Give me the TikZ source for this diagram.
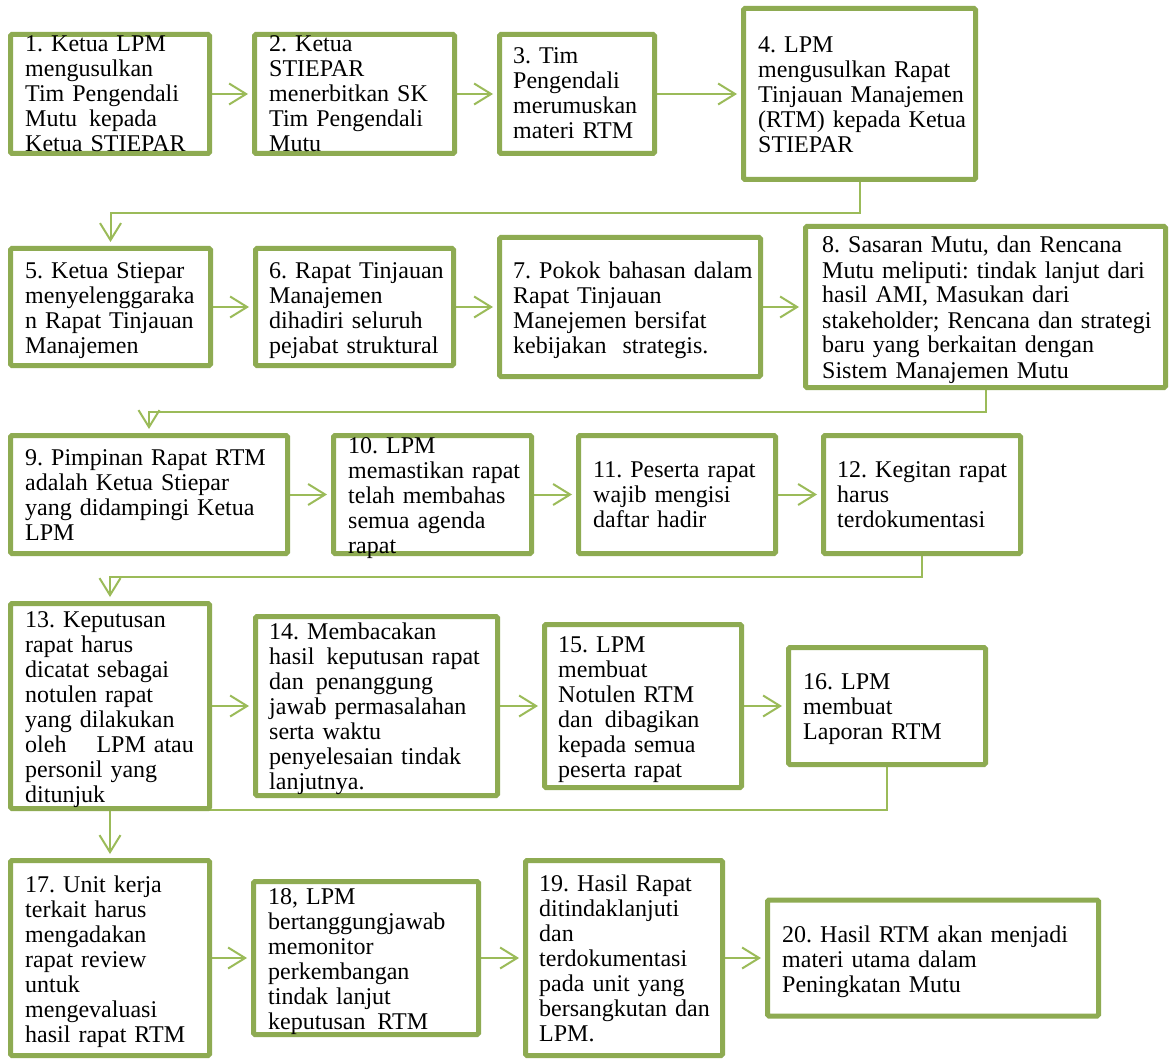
\documentclass[tikz,border=0pt]{standalone}
\usepackage{fontspec}
\setmainfont{Liberation Serif}
\usetikzlibrary{arrows.meta,backgrounds}
\definecolor{boxc}{RGB}{142,171,82}
\definecolor{conn}{RGB}{155,187,89}
\frenchspacing
\begin{document}
\begin{tikzpicture}[x=1pt,y=-1pt,
  box/.style={draw=boxc,line width=5pt,fill=white,rounded corners=1.5pt,inner sep=0pt},
  txt/.style={anchor=base west,inner sep=0pt,align=left,font=\fontsize{24}{25}\selectfont\frenchspacing},
  arr/.style={draw=conn,line width=2pt,-{Straight Barb[length=17pt,width=21pt]},shorten >=4pt}]
\useasboundingbox (0,0) rectangle (1169,1059);
% boxes
\node[box,minimum width=199pt,minimum height=119pt] (b1) at (110,94) {};
\node[box,minimum width=200pt,minimum height=119pt] (b2) at (354.5,94) {};
\node[box,minimum width=155pt,minimum height=119pt] (b3) at (577,94) {};
\node[box,minimum width=232pt,minimum height=171pt] (b4) at (859.5,94) {};
\node[box,minimum width=200pt,minimum height=117pt] (b5) at (110.5,307) {};
\node[box,minimum width=198pt,minimum height=117pt] (b6) at (354.5,307) {};
\node[box,minimum width=261pt,minimum height=139pt] (b7) at (630,307) {};
\node[box,minimum width=360pt,minimum height=161pt] (b8) at (985.5,307) {};
\node[box,minimum width=277pt,minimum height=118pt] (b9) at (149,494.5) {};
\node[box,minimum width=198pt,minimum height=118pt] (b10) at (432.5,494.5) {};
\node[box,minimum width=197pt,minimum height=118pt] (b11) at (677,494.5) {};
\node[box,minimum width=197pt,minimum height=118pt] (b12) at (922,494.5) {};
\node[box,minimum width=199pt,minimum height=205pt] (b13) at (110,706) {};
\node[box,minimum width=242pt,minimum height=179pt] (b14) at (376.5,706) {};
\node[box,minimum width=197pt,minimum height=163pt] (b15) at (643,706) {};
\node[box,minimum width=197pt,minimum height=117pt] (b16) at (887,706) {};
\node[box,minimum width=199pt,minimum height=195pt] (b17) at (110,958) {};
\node[box,minimum width=225pt,minimum height=153pt] (b18) at (366,958) {};
\node[box,minimum width=197pt,minimum height=195pt] (b19) at (624,958) {};
\node[box,minimum width=331pt,minimum height=116pt] (b20) at (933,958) {};
% texts
\node[txt,text width=185pt] (t1) at (25,52) {1. Ketua LPM\\mengusulkan\\Tim Pengendali\\Mutu\hspace{4pt} kepada\\Ketua STIEPAR};
\node[txt,text width=186pt] (t2) at (269,52) {2. Ketua\\STIEPAR\\menerbitkan SK\\Tim Pengendali\\Mutu};
\node[txt,text width=142pt] (t3) at (513,64) {3. Tim\\Pengendali\\merumuskan\\materi RTM};
\node[txt,text width=218pt] (t4) at (758,53) {4. LPM\\mengusulkan Rapat\\Tinjauan Manajemen\\(RTM) kepada Ketua\\STIEPAR};
\node[txt,text width=186pt] (t5) at (25,278) {5. Ketua Stiepar\\menyelenggaraka\\n Rapat Tinjauan\\Manajemen};
\node[txt,text width=185pt] (t6) at (269,278) {6. Rapat Tinjauan\\Manajemen\\dihadiri seluruh\\pejabat struktural};
\node[txt,text width=248pt] (t7) at (513,278) {7. Pokok bahasan dalam\\Rapat Tinjauan\\Manejemen bersifat\\kebijakan\hspace{8pt} strategis.};
\node[txt,text width=344pt] (t8) at (822,253) {8. Sasaran Mutu, dan Rencana\\Mutu meliputi: tindak lanjut dari\\hasil AMI, Masukan dari\\stakeholder; Rencana dan strategi\\baru yang berkaitan dengan\\Sistem Manajemen Mutu};
\node[txt,text width=263pt] (t9) at (25,465) {9. Pimpinan Rapat RTM\\adalah Ketua Stiepar\\yang didampingi Ketua\\LPM};
\node[txt,text width=184pt] (t10) at (348,453) {10. LPM\\memastikan rapat\\telah membahas\\semua agenda\\rapat};
\node[txt,text width=183pt] (t11) at (593,477) {11. Peserta rapat\\wajib mengisi\\daftar hadir};
\node[txt,text width=184pt] (t12) at (837,477) {12. Kegitan rapat\\harus\\terdokumentasi};
\node[txt,text width=185pt] (t13) at (25,627) {13. Keputusan\\rapat harus\\dicatat sebagai\\notulen rapat\\yang dilakukan\\oleh\hspace{30pt}LPM atau\\personil yang\\ditunjuk};
\node[txt,text width=229pt] (t14) at (269,639) {14. Membacakan\\hasil\hspace{4pt} keputusan rapat\\dan\hspace{4pt} penanggung\\jawab permasalahan\\serta waktu\\penyelesaian tindak\\lanjutnya.};
\node[txt,text width=184pt] (t15) at (558,652) {15. LPM\\membuat\\Notulen RTM\\dan\hspace{4pt} dibagikan\\kepada semua\\peserta rapat};
\node[txt,text width=183pt] (t16) at (803,689) {16. LPM\\membuat\\Laporan RTM};
\node[txt,text width=185pt] (t17) at (25,892) {17. Unit kerja\\terkait harus\\mengadakan\\rapat review\\untuk\\mengevaluasi\\hasil rapat RTM};
\node[txt,text width=211pt] (t18) at (268,904) {18, LPM\\bertanggungjawab\\memonitor\\perkembangan\\tindak lanjut\\keputusan\hspace{4pt} RTM};
\node[txt,text width=184pt] (t19) at (539,891) {19. Hasil Rapat\\ditindaklanjuti\\dan\\terdokumentasi\\pada unit yang\\bersangkutan dan\\LPM.};
\node[txt,text width=317pt] (t20) at (782,942) {20. Hasil RTM akan menjadi\\materi utama dalam\\Peningkatan Mutu};
% connectors
\begin{pgfonlayer}{background}
\fill[white] (0,0) rectangle (1169,1059);
\draw[arr] (b1.east) -- (b2.west);
\draw[arr] (b2.east) -- (b3.west);
\draw[arr] (b3.east) -- (b4.west);
\draw[arr] (b4.south) -- ++(0,31) -| (b5.north);
\draw[arr] (b5.east) -- (b6.west);
\draw[arr] (b6.east) -- (b7.west);
\draw[arr] (b7.east) -- (b8.west);
\draw[arr] (b8.south) -- ++(0,22) -| (b9.north);
\draw[arr] (b9.east) -- (b10.west);
\draw[arr] (b10.east) -- (b11.west);
\draw[arr] (b11.east) -- (b12.west);
\draw[arr] (b12.south) -- ++(0,21) -| (b13.north);
\draw[arr] (b13.east) -- (b14.west);
\draw[arr] (b14.east) -- (b15.west);
\draw[arr] (b15.east) -- (b16.west);
\draw[arr] (b16.south) -- ++(0,43) -| (b17.north);
\draw[arr] (b17.east) -- (b18.west);
\draw[arr] (b18.east) -- (b19.west);
\draw[arr] (b19.east) -- (b20.west);
\end{pgfonlayer}
\end{tikzpicture}
\end{document}
